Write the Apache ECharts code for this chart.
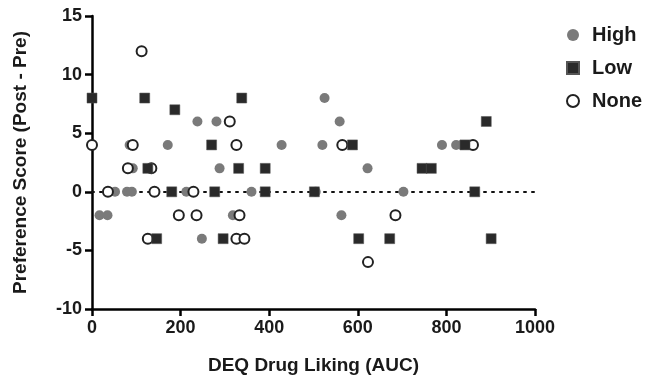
<!DOCTYPE html>
<html>
<head>
<meta charset="utf-8">
<script src="https://cdn.jsdelivr.net/npm/echarts@6/dist/echarts.min.js"></script>
<style>html,body{margin:0;padding:0;background:#fff;}#c{width:650px;height:380px;}</style>
</head>
<body>
<div id="c"></div>
<script>
// DEQ Drug Liking (AUC) vs Preference Score (Post - Pre)
var highX = [525, 238, 281, 559, 85, 171, 428, 520, 790, 822, 834, 92, 288, 622, 52, 79, 90, 213, 360, 505, 703, 17, 35, 318, 563, 248];
var highY = [8, 6, 6, 6, 4, 4, 4, 4, 4, 4, 4, 2, 2, 2, 0, 0, 0, 0, 0, 0, 0, -2, -2, -2, -2, -4];
var lowX = [0, 119, 338, 187, 890, 270, 588, 842, 126, 331, 391, 745, 766, 180, 277, 391, 502, 864, 146, 296, 602, 672, 901];
var lowY = [8, 8, 8, 7, 6, 4, 4, 4, 2, 2, 2, 2, 2, 0, 0, 0, 0, 0, -4, -4, -4, -4, -4];
var noneX = [112, 311, 0, 92, 326, 565, 860, 81, 134, 36, 141, 229, 196, 236, 333, 685, 126, 326, 344, 623];
var noneY = [12, 6, 4, 4, 4, 4, 4, 2, 2, 0, 0, 0, -2, -2, -2, -2, -4, -4, -4, -6];
var xTicks = [0, 200, 400, 600, 800, 1000];
var yTicks = [-10, -5, 0, 5, 10, 15];

function pairs(xs, ys) { return xs.map(function (x, i) { return [x, ys[i]]; }); }

var chart = echarts.init(document.getElementById('c'), null, { renderer: 'canvas' });
var font = '"Liberation Sans", Arial, sans-serif';
var axisCommon = {
  axisLine: { show: true, onZero: false, lineStyle: { color: '#000', width: 2.5 } },
  axisTick: { show: true, length: 7, inside: false, lineStyle: { color: '#000', width: 2.5 } },
  splitLine: { show: false },
  axisLabel: { color: '#1a1a1a', fontSize: 18, fontWeight: 'bold', fontFamily: font, margin: 10,
    formatter: function (v) { return String(v); } }
};
chart.setOption({
  backgroundColor: '#fff',
  animation: false,
  textStyle: { fontFamily: font },
  grid: { left: 92, right: 115, top: 16, bottom: 70 },
  legend: {
    orient: 'vertical', left: 561, top: 20, itemGap: 13,
    itemWidth: 12, itemHeight: 12,
    textStyle: { color: '#1a1a1a', fontSize: 20, fontWeight: 'bold', fontFamily: font, padding: [0, 0, 0, 8] },
    data: ['High', 'Low', 'None']
  },
  xAxis: Object.assign({}, axisCommon, {
    type: 'value', min: xTicks[0], max: xTicks[xTicks.length - 1], interval: 200,
    name: 'DEQ Drug Liking (AUC)', nameLocation: 'middle', nameGap: 47,
    nameTextStyle: { color: '#1a1a1a', fontSize: 19, fontWeight: 'bold', fontFamily: font }
  }),
  yAxis: Object.assign({}, axisCommon, {
    type: 'value', min: yTicks[0], max: yTicks[yTicks.length - 1], interval: 5,
    name: 'Preference Score (Post - Pre)', nameLocation: 'middle', nameGap: 62,
    nameTextStyle: { color: '#1a1a1a', fontSize: 19, fontWeight: 'bold', fontFamily: font }
  }),
  series: [
    {
      name: 'High', type: 'scatter', symbol: 'circle', symbolSize: 10, z: 2,
      itemStyle: { color: '#7a7a7a', opacity: 1 },
      data: pairs(highX, highY),
      markLine: {
        silent: true, symbol: 'none', z: 1,
        label: { show: false },
        lineStyle: { color: '#111', width: 2, type: [2, 6], cap: 'round' },
        data: [{ yAxis: 0 }]
      }
    },
    {
      name: 'None', type: 'scatter', symbol: 'circle', symbolSize: 10, z: 3,
      itemStyle: { color: '#fff', borderColor: '#222', borderWidth: 2, opacity: 1 },
      data: pairs(noneX, noneY)
    },
    {
      name: 'Low', type: 'scatter', symbol: 'rect', symbolSize: 10, z: 4,
      itemStyle: { color: '#2a2a2a', borderColor: '#555', borderWidth: 0.5, opacity: 1 },
      data: pairs(lowX, lowY)
    }
  ]
});
</script>
</body>
</html>
